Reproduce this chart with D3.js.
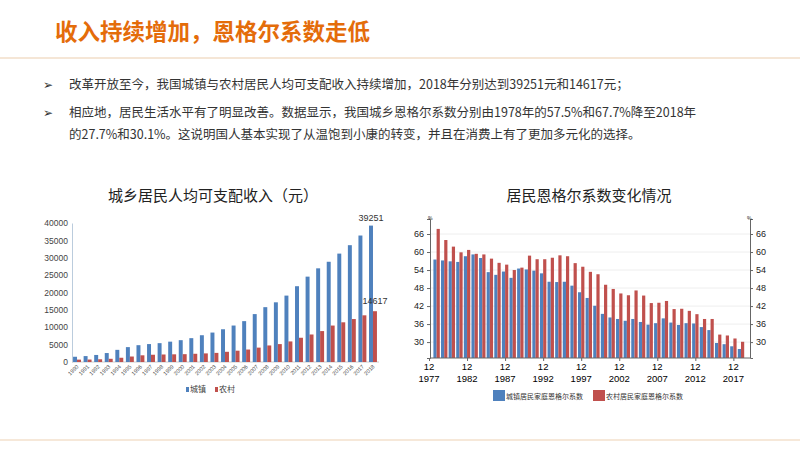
<!DOCTYPE html><html><head><meta charset="utf-8">
<script src="https://cdn.jsdelivr.net/npm/d3@7"></script>
<style>body{margin:0;background:#fff}svg{display:block}text{font-family:"Noto Sans CJK SC","Microsoft YaHei",sans-serif}</style></head><body>
<svg id="c" width="800" height="450"></svg>
<script>
const incomeYears=d3.range(1990,2019);
const urbanIncome=[1510,1701,2027,2577,3496,4283,4839,5160,5425,5854,6280,6860,7703,8472,9422,10493,11759,13786,15781,17175,19109,21810,24565,26955,28844,31195,33616,36396,39251];
const ruralIncome=[686,709,784,922,1221,1578,1926,2090,2162,2210,2253,2366,2476,2622,2936,3255,3587,4140,4761,5153,5919,6977,7917,8896,10489,11422,12363,13432,14617];
const incomeTicks=[0,5000,10000,15000,20000,25000,30000,35000,40000];
const engelYears=d3.range(1978,2019);
const urbanEngel=[57.5,57.2,56.9,56.7,58.6,59.2,58.0,53.3,52.4,53.5,51.4,54.5,54.2,53.8,52.9,50.1,50.0,50.1,48.8,46.6,44.7,42.1,39.4,38.2,37.7,37.1,37.7,36.7,35.8,36.3,37.9,36.5,35.7,36.3,36.2,35.0,34.0,29.7,29.3,28.6,27.7];
const ruralEngel=[67.7,64.0,61.8,59.9,60.7,59.4,59.2,57.8,56.4,55.8,54.0,54.8,58.8,57.6,57.6,58.1,58.9,58.6,56.3,55.1,53.4,52.6,49.1,47.7,46.2,45.6,47.2,45.5,43.0,43.1,43.7,41.0,41.1,40.4,39.3,37.7,37.7,32.5,32.2,31.2,30.1];
const engelTicks=[30,36,42,48,54,60,66];
const engelXTicks=[1977,1982,1987,1992,1997,2002,2007,2012,2017];
const BLUE="#4f81bd",RED="#c0504d";
const svg=d3.select("#c");
svg.append("text").attr("x",55).attr("y",40).attr("fill","#e46c0a").attr("font-size",22.5).attr("font-weight","bold").text("收入持续增加，恩格尔系数走低");
svg.append("line").attr("x1",0).attr("x2",800).attr("y1",58).attr("y2",58).attr("stroke","#f5e6d6").attr("stroke-width",2);
svg.append("line").attr("x1",0).attr("x2",800).attr("y1",440).attr("y2",440).attr("stroke","#f3e0cc").attr("stroke-width",1.5);
const body=[[89,"改革开放至今，我国城镇与农村居民人均可支配收入持续增加，2018年分别达到39251元和14617元；",true],[117,"相应地，居民生活水平有了明显改善。数据显示，我国城乡恩格尔系数分别由1978年的57.5%和67.7%降至2018年",true],[139,"的27.7%和30.1%。这说明国人基本实现了从温饱到小康的转变，并且在消费上有了更加多元化的选择。",false]];
body.forEach(([y,t,b])=>{if(b)svg.append("text").attr("x",43).attr("y",y).attr("font-size",12).attr("fill","#333").text("➢");
svg.append("text").attr("x",69).attr("y",y).attr("font-size",12.5).attr("fill","#333").text(t);});
svg.append("text").attr("x",213).attr("y",201).attr("text-anchor","middle").attr("font-size",15).attr("fill","#222").text("城乡居民人均可支配收入（元）");
const x1=d3.scaleBand().domain(incomeYears).range([72,378]).paddingInner(0.25).paddingOuter(0.1);
const y1=d3.scaleLinear().domain([0,40000]).range([362,223]);
const g1=svg.append("g");
const ya=g1.append("g").attr("transform","translate(72,0)").call(d3.axisLeft(y1).tickValues(incomeTicks).tickFormat(d3.format("d")).tickSize(0).tickPadding(4));
ya.select(".domain").attr("stroke","#bcd");ya.selectAll("text").attr("font-size",8.5).attr("fill","#444").style("font-family","Arial");
g1.append("line").attr("x1",72).attr("x2",379).attr("y1",362).attr("y2",362).attr("stroke","#ccc");
const bw=x1.bandwidth()/2;
g1.selectAll(".u").data(incomeYears).join("rect").attr("x",d=>x1(d)).attr("width",bw).attr("y",(d,i)=>y1(urbanIncome[i])).attr("height",(d,i)=>362-y1(urbanIncome[i])).attr("fill",BLUE);
g1.selectAll(".r").data(incomeYears).join("rect").attr("x",d=>x1(d)+bw).attr("width",bw).attr("y",(d,i)=>y1(ruralIncome[i])).attr("height",(d,i)=>362-y1(ruralIncome[i])).attr("fill",RED);
g1.selectAll(".xl").data(incomeYears).join("text").attr("transform",d=>`translate(${x1(d)+bw+2},367) rotate(-45)`).attr("text-anchor","end").attr("font-size",5.5).attr("fill","#444").style("font-family","Arial").text(d=>d);
const last=incomeYears.length-1;
g1.append("text").attr("x",x1(2018)+bw/2).attr("y",y1(urbanIncome[last])-5).attr("text-anchor","middle").attr("font-size",9).attr("fill","#333").style("font-family","Arial").text(urbanIncome[last]);
g1.append("text").attr("x",x1(2018)+bw*1.5).attr("y",y1(ruralIncome[last])-7).attr("text-anchor","middle").attr("font-size",9).attr("fill","#333").style("font-family","Arial").text(ruralIncome[last]);
[[BLUE,"城镇",186],[RED,"农村",215]].forEach(([c,t,x])=>{g1.append("rect").attr("x",x).attr("y",387).attr("width",3).attr("height",5).attr("fill",c);g1.append("text").attr("x",x+4).attr("y",392).attr("font-size",8).attr("fill","#444").text(t);});
svg.append("text").attr("x",589).attr("y",201).attr("text-anchor","middle").attr("font-size",15).attr("fill","#222").text("居民恩格尔系数变化情况");
const x2=d3.scaleLinear().domain([1977,2018]).range([429,741]);
const y2=d3.scaleLinear().domain([24.7,71]).range([358,219]);
const g2=svg.append("g");
g2.selectAll(".gl").data(engelTicks).join("line").attr("x1",430).attr("x2",750).attr("y1",d=>y2(d)).attr("y2",d=>y2(d)).attr("stroke","#eee");
const w2=3.2;
g2.selectAll(".u").data(engelYears).join("rect").attr("x",d=>x2(d)-w2).attr("width",w2).attr("y",(d,i)=>y2(urbanEngel[i])).attr("height",(d,i)=>358-y2(urbanEngel[i])).attr("fill",BLUE);
g2.selectAll(".r").data(engelYears).join("rect").attr("x",d=>x2(d)).attr("width",w2).attr("y",(d,i)=>y2(ruralEngel[i])).attr("height",(d,i)=>358-y2(ruralEngel[i])).attr("fill",RED);
const la=g2.append("g").attr("transform","translate(430,0)").call(d3.axisLeft(y2).tickValues(engelTicks).tickSize(3));
const ra=g2.append("g").attr("transform","translate(750,0)").call(d3.axisRight(y2).tickValues(engelTicks).tickSize(3));
[la,ra].forEach(a=>{a.selectAll("path,line").attr("stroke","#666");a.selectAll("text").attr("font-size",9).attr("fill","#222").style("font-family","Arial");});
g2.append("text").attr("x",428).attr("y",220).attr("font-size",5).text("%");
g2.append("text").attr("x",747).attr("y",220).attr("font-size",5).text("%");
const xa=g2.append("g").attr("transform","translate(0,358)").call(d3.axisBottom(x2).tickValues(engelXTicks).tickSize(3).tickFormat(()=>""));
xa.select(".domain").attr("d","M430,0H750");xa.selectAll("path,line").attr("stroke","#666");
engelXTicks.forEach(t=>{g2.append("text").attr("x",x2(t)).attr("y",370).attr("text-anchor","middle").attr("font-size",9.5).style("font-family","Arial").text("12");
g2.append("text").attr("x",x2(t)).attr("y",382).attr("text-anchor","middle").attr("font-size",9.5).style("font-family","Arial").text(t);});
[[BLUE,"城镇居民家庭恩格尔系数",493],[RED,"农村居民家庭恩格尔系数",593]].forEach(([c,t,x])=>{g2.append("rect").attr("x",x).attr("y",390).attr("width",12).attr("height",11).attr("fill",c);g2.append("text").attr("x",x+13).attr("y",399).attr("font-size",7).attr("fill","#333").text(t);});
</script></body></html>
